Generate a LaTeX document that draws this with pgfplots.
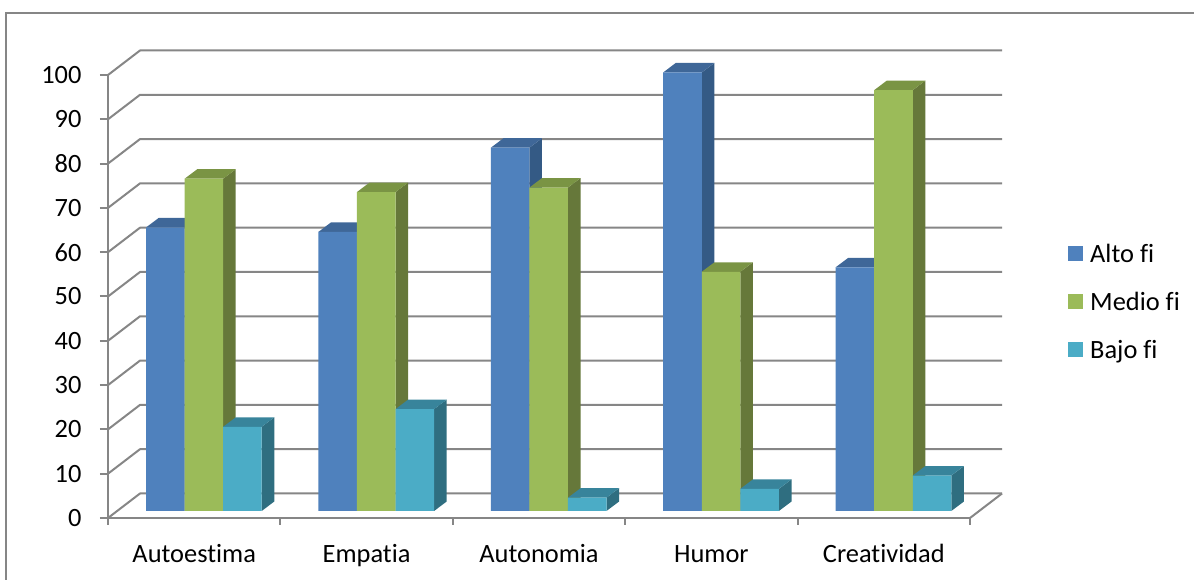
\documentclass[border=0pt]{standalone}
\usepackage{fontspec}
\setmainfont[Ligatures=NoCommon]{Carlito}
\usepackage{pgfplots}
\usepackage{pgfplotstable}
\pgfplotsset{compat=1.18}

\definecolor{gridgray}{HTML}{868686}
\definecolor{altofront}{HTML}{4F81BD}
\definecolor{altoside}{HTML}{345A85}
\definecolor{altotop}{HTML}{3F6798}
\definecolor{mediofront}{HTML}{9BBB59}
\definecolor{medioside}{HTML}{66783A}
\definecolor{mediotop}{HTML}{7A9444}
\definecolor{bajofront}{HTML}{4BACC6}
\definecolor{bajoside}{HTML}{2F6E80}
\definecolor{bajotop}{HTML}{38849B}

\pgfplotstableread{
pos alto medio bajo
0   64   75    19
1   63   72    23
2   82   73    3
3   99   54    5
4   55   95    8
}\scores

% Bar geometry in axis units
\def\barw{0.2237}       % bar width
\def\barx{0.056}        % sideways offset of the bar group on the floor
\def\bary{1.58}         % height of the bars' base above the front floor edge
\def\depx{0.0731}       % horizontal depth of a bar
\def\depy{2.144}        % vertical depth of a bar
\def\wallx{0.1856}      % horizontal depth of the floor
\def\wally{5.53}        % vertical depth of the floor

% Side and top faces of one bar: #1 row, #2 column name, #3 slot in the group, #4 colour stem
\newcommand{\barfaces}[4]{%
  \pgfplotstablegetelem{#1}{#2}\of\scores
  \pgfmathsetmacro{\xa}{#1+\barx+(#3-0.5)*\barw}%
  \pgfmathsetmacro{\xb}{\xa+\barw}%
  \pgfmathsetmacro{\xc}{\xb+\depx}%
  \pgfmathsetmacro{\xd}{\xa+\depx}%
  \pgfmathsetmacro{\ya}{\bary}%
  \pgfmathsetmacro{\yb}{\bary+\depy}%
  \pgfmathsetmacro{\yc}{\pgfplotsretval+\bary}%
  \pgfmathsetmacro{\yd}{\yc+\depy}%
  \edef\drawfaces{%
    \noexpand\addplot[fill=#4side, draw=none, forget plot] coordinates
      {(\xb,\ya) (\xc,\yb) (\xc,\yd) (\xb,\yc)} --cycle;
    \noexpand\addplot[fill=#4top, draw=none, forget plot] coordinates
      {(\xa,\yc) (\xb,\yc) (\xc,\yd) (\xd,\yd)} --cycle;
  }%
  \drawfaces
}

% Wall line at one value: short diagonal at the left, then across the back
\newcommand{\wallline}[1]{%
  \pgfmathsetmacro{\yback}{#1+\wally}%
  \pgfmathsetmacro{\xl}{-0.5+\wallx}%
  \pgfmathsetmacro{\xr}{4.5+\wallx}%
  \edef\drawline{%
    \noexpand\addplot[gridgray, line width=2pt, line join=round, forget plot] coordinates
      {(-0.5,#1) (\xl,\yback) (\xr,\yback)};
  }%
  \drawline
}

\begin{document}
\begin{tikzpicture}
\path[use as bounding box] (-108pt,-62pt) rectangle (1086pt,518pt);
\draw[gridgray, line width=2pt] (-101.5pt,-62pt) -- (-101.5pt,505pt) -- (1086pt,505pt);
\begin{axis}[
  scale only axis,
  width=862pt, height=443pt,
  xmin=-0.5, xmax=4.5, ymin=0, ymax=100,
  clip=false,
  axis x line*=bottom, axis y line*=left,
  axis line style={gridgray, line width=2pt},
  tick style={gridgray, line width=2pt},
  tick align=outside,
  major tick length=8pt,
  minor tick length=7pt,
  xtick={0,1,2,3,4},
  xticklabels={Autoestima,Empatia,Autonomia,Humor,Creatividad},
  minor xtick={-0.5,0.5,1.5,2.5,3.5,4.5},
  major x tick style={draw=none},
  ytick={0,10,...,100},
  /pgf/number format/assume math mode=true,
  tick label style={font=\fontsize{26.4}{30}\selectfont, text=black},
  xticklabel style={yshift=-18pt, text height=18pt, text depth=6pt, inner ysep=0pt},
  yticklabel style={xshift=-15pt},
  legend style={
    at={(1.1137,0.4808)}, anchor=west, draw=none, fill=none, inner sep=0pt,
    font=\fontsize{26.4}{30}\selectfont,
    nodes={text height=17pt, text depth=6pt, inner sep=0pt},
    /tikz/row sep=25pt, /tikz/column sep=7pt,
  },
  legend cell align=left,
]
% walls and floor
\pgfplotsinvokeforeach{0,10,...,100}{\wallline{#1}}
\addplot[gridgray, line width=2pt, forget plot] coordinates {(4.5,0) (4.6856,5.53)};

% each series: depth faces first, then the front faces
\pgfplotsinvokeforeach{0,...,4}{\barfaces{#1}{alto}{-1}{alto}}
\addplot[ybar, area legend, bar width=38.57pt, bar shift=-38.57pt, xshift=9.66pt, yshift=7pt,
  fill=altofront, draw=none,
  legend image code/.code={\fill[altofront] (0pt,-11pt) rectangle (15pt,4pt);}]
  table[x=pos, y=alto] {\scores};
\pgfplotsinvokeforeach{0,...,4}{\barfaces{#1}{medio}{0}{medio}}
\addplot[ybar, area legend, bar width=38.57pt, bar shift=0pt, xshift=9.66pt, yshift=7pt,
  fill=mediofront, draw=none,
  legend image code/.code={\fill[mediofront] (0pt,-11pt) rectangle (15pt,4pt);}]
  table[x=pos, y=medio] {\scores};
\pgfplotsinvokeforeach{0,...,4}{\barfaces{#1}{bajo}{1}{bajo}}
\addplot[ybar, area legend, bar width=38.57pt, bar shift=38.57pt, xshift=9.66pt, yshift=7pt,
  fill=bajofront, draw=none,
  legend image code/.code={\fill[bajofront] (0pt,-11pt) rectangle (15pt,4pt);}]
  table[x=pos, y=bajo] {\scores};
\legend{Alto fi, Medio fi, Bajo fi}
\end{axis}
\end{tikzpicture}
\end{document}
